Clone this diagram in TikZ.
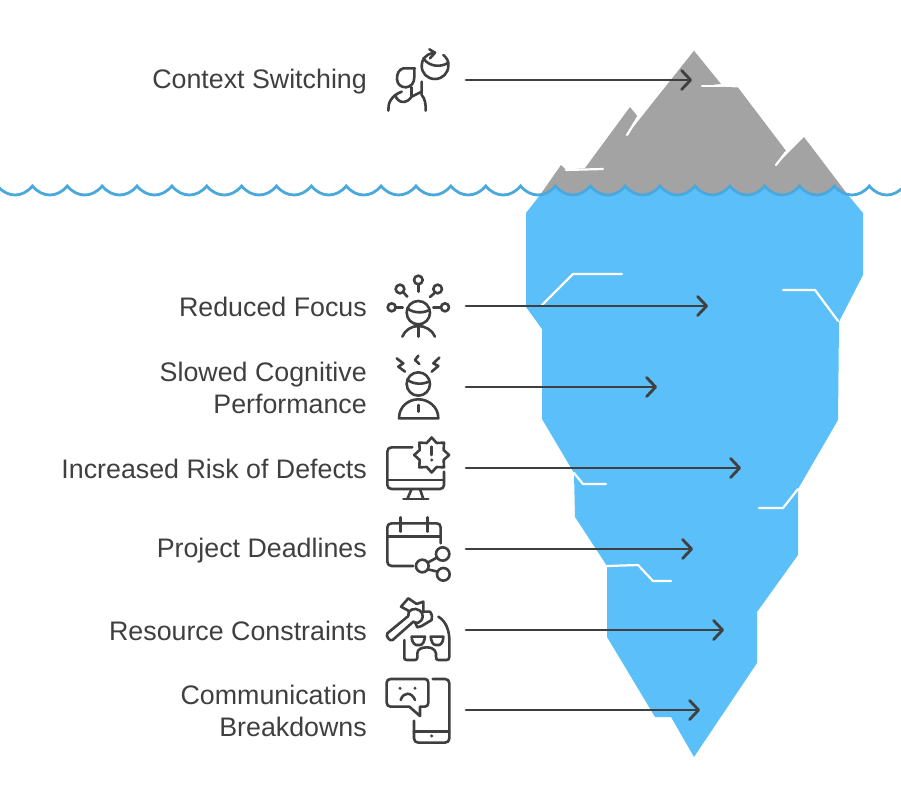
\documentclass[tikz,border=0pt]{standalone}
\usepackage{fontspec}
\setmainfont{Liberation Sans}
\usepackage{xcolor}
\usetikzlibrary{arrows.meta,shapes.geometric}
\definecolor{rockgray}{HTML}{A3A3A3}
\definecolor{iceblue}{HTML}{5BBFFA}
\definecolor{wavblue}{HTML}{4AA8DC}
\definecolor{inkgray}{HTML}{3F3F3F}
\tikzset{
  lbl/.style={anchor=east,align=right,text=inkgray,font=\fontsize{26.8}{32}\selectfont,inner sep=0pt,yshift=-1.2pt},
  pointer/.style={draw=inkgray,line width=2.8pt,line cap=round,-{Straight Barb[length=9pt,width=19pt,line width=2.8pt,round]}},
  crack/.style={draw=white,line width=2.2pt,line cap=round,line join=round},
  ico/.style={draw=inkgray,line width=2.6pt,line cap=round,line join=round},
  dotty/.style={fill=inkgray},
  zoomed/.style={shift={#1},scale=0.3333}
}
\begin{document}
\begin{tikzpicture}[x=1pt,y=-1pt]
\useasboundingbox (0,0) rectangle (901,810);

\fill[rockgray] (694,50.7)-- (721,84)-- (702,86)-- (738,87.5)-- (786.7,151.7)-- (776,165)-- (804,137)-- (848,195)-- (540,195)-- (561,165)-- (566,170)-- (585,168)-- (630,107)-- (638,117)-- (627,135)-- cycle;
\fill[iceblue] (540,195) .. controls (546,195) and (551,191) .. (555.4,186)
  \foreach \x in {555.4,590.3,...,800} { .. controls (\x+10,198) and (\x+25,198) .. (\x+34.87,186)}
  .. controls (838,191) and (843,195) .. (848,195)
  -- (863,213)-- (863,275)-- (839,321.7)-- (838,420)-- (798,489)-- (798,555)-- (757,612)-- (757,663)-- (694,757)-- (671,717)-- (655,717)-- (607,637)-- (607,566)-- (575,517)-- (574,473)-- (542,419)-- (542,329)-- (526,307)-- (526,213)-- cycle;
\draw[wavblue,line width=2.8pt] (-2.47,186)
  \foreach \x in {-2.47,32.4,...,870} { .. controls (\x+10,198) and (\x+25,198) .. (\x+34.87,186)};

\draw[crack] (702,86)-- (720,86);
\draw[crack] (786,152)-- (776,165);
\draw[crack] (566,170)-- (603,169);
\draw[crack] (638,117)-- (627,135);
\draw[crack] (542,305)-- (573,274)-- (622,274);
\draw[crack] (783,290)-- (815,290)-- (838,321);
\draw[crack] (574,473)-- (583,484)-- (606,484);
\draw[crack] (798,489)-- (783,508)-- (759,508);
\draw[crack] (607,566)-- (638,565)-- (653,581)-- (671,581);

\node[lbl] (switching) at (367,80) {Context Switching};
\node[lbl] (focus) at (367,306) {Reduced Focus};
\node[lbl] (cognitive) at (367,387) {Slowed Cognitive\\Performance};
\node[lbl] (defects) at (367,468) {Increased Risk of Defects};
\node[lbl] (deadlines) at (367,549) {Project Deadlines};
\node[lbl] (resource) at (367,630) {Resource Constraints};
\node[lbl] (breakdowns) at (367,710) {Communication\\Breakdowns};

\coordinate (switching-a) at (466,80);
\coordinate (switching-b) at (692,80);
\coordinate (focus-a) at (466,306);
\coordinate (focus-b) at (708,306);
\coordinate (cognitive-a) at (466,387);
\coordinate (cognitive-b) at (657,387);
\coordinate (defects-a) at (466,468);
\coordinate (defects-b) at (741,468);
\coordinate (deadlines-a) at (466,549);
\coordinate (deadlines-b) at (693,549);
\coordinate (resource-a) at (466,630);
\coordinate (resource-b) at (724,630);
\coordinate (breakdowns-a) at (466,710);
\coordinate (breakdowns-b) at (700,710);
\draw[pointer] (switching-a)-- (switching-b);
\draw[pointer] (focus-a)-- (focus-b);
\draw[pointer] (cognitive-a)-- (cognitive-b);
\draw[pointer] (defects-a)-- (defects-b);
\draw[pointer] (deadlines-a)-- (deadlines-b);
\draw[pointer] (resource-a)-- (resource-b);
\draw[pointer] (breakdowns-a)-- (breakdowns-b);

\begin{scope}[zoomed={(370,10)}]
\draw[ico] (135,175)-- (100,175) .. controls (88,178) and (80,190) .. (81,208) .. controls (82,225) and (95,232) .. (108,232) .. controls (125,230) and (133,218) .. (133,200)-- (133,178);
\draw[ico] (55,302) .. controls (54,280) and (62,258) .. (95,245);
\draw[ico] (75,255) .. controls (85,282) and (110,282) .. (125,260)-- (155,245);
\draw[ico] (125,232)-- (125,260);
\draw[ico] (155,215)-- (155,255) .. controls (165,265) and (168,285) .. (167,302);
\draw[ico] (220,135) .. controls (232,145) and (236,155) .. (235,167) .. controls (235,190) and (217,207) .. (195,207) .. controls (172,207) and (155,190) .. (155,167) .. controls (155,148) and (168,133) .. (188,129);
\draw[ico] (160,145) .. controls (178,172) and (215,172) .. (235,158);
\draw[ico] (178,118)-- (195,128)-- (180,145);
\end{scope}

\begin{scope}[zoomed={(370,265)}]
\draw[ico] (145,143) circle (35);
\draw[ico] (112,130) .. controls (130,145) and (160,145) .. (178,135);
\draw[ico] (97,215) .. controls (105,195) and (125,183) .. (145,183) .. controls (165,183) and (187,195) .. (195,215);
\draw[ico] (145,183)-- (145,215);
\draw[ico] (145,45) circle (13);
\draw[ico] (145,58)-- (145,80);
\draw[ico] (90,72) circle (13);
\draw[ico] (100,82)-- (112,95);
\draw[ico] (203,72) circle (13);
\draw[ico] (195,83)-- (180,96);
\draw[ico] (65,127) circle (12);
\draw[ico] (78,127)-- (98,127);
\draw[ico] (225,127) circle (12);
\draw[ico] (190,127)-- (212,127);
\draw[ico] (145,357) circle (35);
\draw[ico] (112,344) .. controls (130,359) and (160,359) .. (178,349);
\draw[ico] (87,460) .. controls (87,425) and (115,403) .. (145,403) .. controls (175,403) and (205,425) .. (205,460)-- cycle;
\draw[ico] (145,420)-- (145,440);
\draw[ico] (80,280)-- (100,295)-- (85,305)-- (105,320);
\draw[ico] (145,272)-- (135,285)-- (148,297);
\draw[ico] (208,278)-- (190,295)-- (205,303)-- (185,320);
\end{scope}

\begin{scope}[zoomed={(370,430)}]
\draw[ico] (127,52)-- (65,52) .. controls (57,52) and (52,57) .. (52,65)-- (52,165) .. controls (52,172) and (57,177) .. (65,177)-- (210,177) .. controls (217,177) and (222,172) .. (222,165)-- (222,125);
\draw[ico] (52,150)-- (222,150);
\draw[ico] (125,177)-- (112,207);
\draw[ico] (150,177)-- (160,207);
\draw[ico] (100,207)-- (175,207);
\node[ico,star,star points=8,star point ratio=1.35,minimum size=35pt,inner sep=0pt] (badge) at (185,75) {};
\draw[ico] (185,50)-- (185,75);
\fill[dotty] (185,90) circle (5);
\draw[ico] (130,408)-- (65,408) .. controls (57,408) and (52,403) .. (52,395)-- (52,292) .. controls (52,285) and (57,280) .. (65,280)-- (200,280) .. controls (207,280) and (212,285) .. (212,292)-- (212,340);
\draw[ico] (52,320)-- (212,320);
\draw[ico] (92,262)-- (92,305);
\draw[ico] (172,262)-- (172,305);
\draw[ico] (218,372) circle (20);
\draw[ico] (157,408) circle (19);
\draw[ico] (220,433) circle (19);
\draw[ico] (173,398)-- (202,382);
\draw[ico] (173,418)-- (203,425);
\end{scope}

\begin{scope}[zoomed={(370,590)}]
\draw[ico] (115,78)-- (52,130) .. controls (46,138) and (60,156) .. (68,150)-- (130,95);
\draw[ico] (115,78) .. controls (110,60) and (135,50) .. (150,62) .. controls (163,72) and (160,92) .. (145,98) .. controls (140,100) and (135,98) .. (130,95);
\draw[ico] (115,62)-- (93,50)-- (115,25)-- (140,42)-- (160,35)-- (160,62);
\draw[ico] (158,65)-- (180,65) .. controls (187,75) and (187,82) .. (185,90)-- (155,108)-- (142,112)-- (135,97);
\draw[ico] (205,80) .. controls (230,95) and (238,125) .. (238,150)-- (238,200) .. controls (238,207) and (235,210) .. (230,210)-- (205,210) .. controls (200,210) and (198,207) .. (198,200)-- (198,190) .. controls (195,175) and (180,172) .. (170,172) .. controls (155,172) and (142,178) .. (142,190)-- (142,203) .. controls (142,207) and (139,210) .. (135,210)-- (110,210) .. controls (105,210) and (103,207) .. (103,203)-- (103,150);
\draw[ico] (125,140)-- (165,140) .. controls (163,155) and (158,165) .. (150,165)-- (138,165) .. controls (130,162) and (125,152) .. (125,140)-- cycle;
\draw[ico] (220,140)-- (182,140) .. controls (184,155) and (189,165) .. (197,165)-- (208,165) .. controls (216,162) and (220,152) .. (220,140)-- cycle;
\draw[ico] (62,267)-- (165,267) .. controls (171,267) and (175,271) .. (175,278)-- (175,338) .. controls (175,345) and (171,350) .. (165,350)-- (150,350)-- (150,378)-- (118,350)-- (62,350) .. controls (55,350) and (50,345) .. (50,338)-- (50,278) .. controls (50,271) and (55,267) .. (62,267)-- cycle;
\fill[dotty] (90,295) circle (5);
\fill[dotty] (135,295) circle (5);
\draw[ico] (92,330) .. controls (100,305) and (125,305) .. (135,330);
\draw[ico] (188,267)-- (225,267) .. controls (233,267) and (238,272) .. (238,280)-- (238,445) .. controls (238,453) and (233,458) .. (225,458)-- (145,458) .. controls (137,458) and (132,453) .. (132,445)-- (132,392);
\draw[ico] (132,425)-- (238,425);
\fill[dotty] (185,438) circle (5);
\end{scope}
\end{tikzpicture}
\end{document}
